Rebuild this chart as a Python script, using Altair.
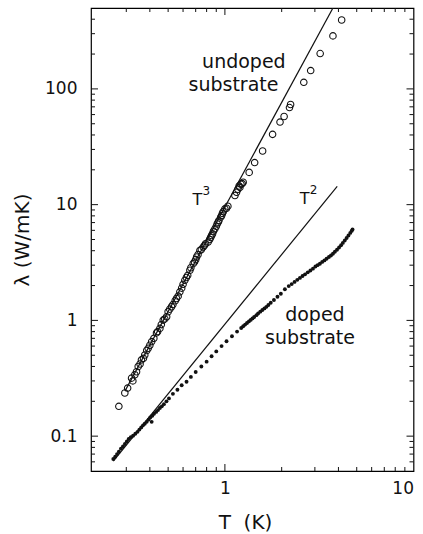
import altair as alt
import pandas as pd

# ---------------- data ----------------
undoped_T = [4.16, 3.74, 3.20, 2.85, 2.62, 2.23, 2.20, 2.06, 1.96, 1.79, 1.585, 1.438, 1.345,
             1.25, 1.235, 1.216, 1.201, 1.19, 1.172, 1.153, 1.13,
             1.037, 1.02, 1.0, 0.98, 0.97, 0.961, 0.95, 0.93, 0.921, 0.91, 0.90, 0.885, 0.87,
             0.86, 0.85, 0.84, 0.83, 0.815, 0.79, 0.78, 0.767, 0.75, 0.737, 0.72, 0.708, 0.70,
             0.69, 0.679, 0.66, 0.652, 0.635, 0.625, 0.613, 0.60, 0.59, 0.577, 0.565, 0.554,
             0.545, 0.53, 0.521, 0.51, 0.50, 0.491, 0.48, 0.471, 0.46, 0.452, 0.44, 0.434,
             0.42, 0.409, 0.40, 0.392, 0.385, 0.376, 0.37, 0.361, 0.355, 0.347, 0.34, 0.333,
             0.32, 0.325, 0.305, 0.2947, 0.274]
undoped_k = [394, 287, 202, 144, 114, 73.3, 69, 57.8, 51.7, 40.5, 29.1, 23.1, 19.0,
             15.6, 15.2, 15.0, 14.1, 14.5, 13.6, 12.8, 12.0,
             9.7, 9.3, 9.19, 8.7, 8.4, 8.04, 7.8, 7.3, 7.06, 6.8, 6.5, 6.18, 5.9,
             5.6, 5.41, 5.2, 5.0, 4.75, 4.6, 4.45, 4.30, 4.1, 4.02, 3.7, 3.53, 3.35,
             3.2, 3.09, 2.85, 2.71, 2.45, 2.35, 2.22, 2.05, 1.9, 1.765, 1.62, 1.546,
             1.48, 1.37, 1.312, 1.25, 1.188, 1.076, 1.03, 1.006, 0.92, 0.853, 0.80, 0.78,
             0.70, 0.656, 0.61, 0.574, 0.55, 0.503, 0.47, 0.456, 0.42, 0.400, 0.36, 0.339,
             0.317, 0.30, 0.260, 0.236, 0.181]

doped_T = [0.256, 0.262, 0.268, 0.274, 0.281, 0.288, 0.295, 0.302, 0.309, 0.317, 0.326, 0.335,
           0.344, 0.352, 0.360, 0.368, 0.376, 0.385, 0.394, 0.409, 0.402, 0.412, 0.421, 0.432,
           0.442, 0.452, 0.463, 0.475, 0.490,
           0.505, 0.53, 0.56, 0.59, 0.626, 0.66, 0.70, 0.75, 0.80, 0.85, 0.90, 0.96, 1.02,
           1.09, 1.16, 1.22, 1.25, 1.28, 1.31, 1.34, 1.37, 1.40, 1.43, 1.47, 1.50, 1.54, 1.58,
           1.62, 1.66, 1.70, 1.75, 1.82, 1.90, 1.98, 2.08, 2.18, 2.26, 2.34, 2.42, 2.50, 2.58,
           2.66, 2.75, 2.84, 2.93, 3.02, 3.10, 3.19, 3.28, 3.37, 3.46, 3.56, 3.65, 3.74, 3.83,
           3.93, 4.03, 4.13, 4.22, 4.32, 4.42, 4.52, 4.62, 4.70, 4.75]
doped_k = [0.0635, 0.0665, 0.070, 0.0735, 0.078, 0.0815, 0.0855, 0.090, 0.0945, 0.098, 0.101,
           0.105, 0.109, 0.114, 0.119, 0.124, 0.128, 0.133, 0.139, 0.133, 0.145, 0.150, 0.156,
           0.162, 0.168, 0.175, 0.181, 0.189, 0.200,
           0.212, 0.232, 0.252, 0.275, 0.295, 0.325, 0.358, 0.40, 0.44, 0.49, 0.54, 0.60, 0.66,
           0.73, 0.80, 0.86, 0.89, 0.92, 0.95, 0.98, 1.01, 1.04, 1.07, 1.11, 1.15, 1.19, 1.23,
           1.27, 1.31, 1.36, 1.42, 1.50, 1.60, 1.70, 1.86, 1.98, 2.06, 2.15, 2.24, 2.33, 2.42,
           2.50, 2.60, 2.70, 2.80, 2.92, 3.00, 3.09, 3.20, 3.30, 3.41, 3.53, 3.64, 3.77, 3.92,
           4.08, 4.26, 4.46, 4.67, 4.90, 5.15, 5.42, 5.70, 5.93, 6.10]

# power-law guide lines (end points)
t3_T = [0.295, 3.74]
t3_k = [0.245, 500]
t2_T = [0.256, 3.94]
t2_k = [0.0608, 14.4]

# annotations
ann_text = ["undoped", "substrate", "doped", "substrate"]
ann_T = [1.261, 1.11, 3.0, 2.825]
ann_k = [170, 109, 1.11, 0.70]
pow_T = [0.715, 2.648]
pow_k = [11.0, 11.3]
pow_exp = ["3", "2"]

# ticks
x_major = [1]
x_minor = [0.3, 0.4, 0.5, 0.6, 0.7, 0.8, 0.9, 2, 3, 4, 5, 6, 7, 8, 9]
y_major = [0.1, 1, 10, 100]
y_minor = [0.06, 0.07, 0.08, 0.09, 0.2, 0.3, 0.4, 0.5, 0.6, 0.7, 0.8, 0.9,
           2, 3, 4, 5, 6, 7, 8, 9, 20, 30, 40, 50, 60, 70, 80, 90, 200, 300, 400]
x_labels = [1, 10]
y_labels = [0.1, 1, 10, 100]

# ---------------- chart ----------------
W, H = 322.5, 463
FONT = "DejaVu Sans"
INK = "#111111"

xs = alt.Scale(type="log", domain=[0.195, 10], nice=False)
ys = alt.Scale(type="log", domain=[0.05, 500], nice=False)

xaxis = alt.Axis(values=x_labels, format="~g", ticks=False, domain=False,
                 grid=False, labelFont=FONT, labelFontSize=17, labelColor=INK,
                 labelPadding=9, title="T\u00a0\u00a0(K)", titleFont=FONT,
                 titleFontSize=20, titleFontWeight="normal", titleColor=INK,
                 titleX=154, titleY=51, titleBaseline="middle")
yaxis = alt.Axis(values=y_labels, format="~g", ticks=False, domain=False,
                 grid=False, labelFont=FONT, labelFontSize=17, labelColor=INK,
                 labelPadding=14, title="\u03bb\u00a0(W/mK)", titleFont=FONT,
                 titleFontSize=20, titleFontWeight="normal", titleColor=INK,
                 titleX=-69, titleBaseline="middle")

X = alt.X("T:Q", scale=xs, axis=xaxis)
Y = alt.Y("k:Q", scale=ys, axis=yaxis)

undoped = pd.DataFrame({"T": undoped_T, "k": undoped_k})
doped = pd.DataFrame({"T": doped_T, "k": doped_k})

pts_undoped = alt.Chart(undoped).mark_point(shape="circle", filled=False, size=42,
                                            strokeWidth=1.1, color=INK, opacity=1).encode(x=X, y=Y)

pts_doped = alt.Chart(doped).mark_circle(size=15, color=INK, opacity=1).encode(x=X, y=Y)

line3 = alt.Chart(pd.DataFrame({"T": t3_T, "k": t3_k})).mark_line(
    color=INK, strokeWidth=1.2, clip=True).encode(x=X, y=Y)
line2 = alt.Chart(pd.DataFrame({"T": t2_T, "k": t2_k})).mark_line(
    color=INK, strokeWidth=1.2, clip=True).encode(x=X, y=Y)

ann = alt.Chart(pd.DataFrame({"T": ann_T, "k": ann_k, "t": ann_text})).mark_text(
    font=FONT, fontSize=19, color=INK, align="center", baseline="middle").encode(
    x=X, y=Y, text="t:N")

powdf = pd.DataFrame({"T": pow_T, "k": pow_k, "e": pow_exp, "b": ["T", "T"]})
pow_base = alt.Chart(powdf).mark_text(
    font=FONT, fontSize=16, color=INK, align="center", baseline="middle").encode(
    x=X, y=Y, text="b:N")
pow_sup = alt.Chart(powdf).mark_text(
    font=FONT, fontSize=12, color=INK, align="center", baseline="middle", dx=9, dy=-9).encode(
    x=X, y=Y, text="e:N")


def yticks(vals, length, right=False):
    d = pd.DataFrame({"k": vals})
    x0 = W if right else 0
    x1 = W - length if right else length
    return alt.Chart(d).mark_rule(color=INK, strokeWidth=1).encode(
        y=Y, x=alt.value(x0), x2=alt.value(x1))


def xticks(vals, length, top=False):
    d = pd.DataFrame({"T": vals})
    y0 = 0 if top else H
    y1 = length if top else H - length
    return alt.Chart(d).mark_rule(color=INK, strokeWidth=1).encode(
        x=X, y=alt.value(y0), y2=alt.value(y1))


ticks = [yticks(y_major, 7), yticks(y_minor, 4), yticks(y_major, 7, True), yticks(y_minor, 4, True),
         xticks(x_major, 7), xticks(x_minor, 4), xticks(x_major, 7, True), xticks(x_minor, 4, True)]

chart = alt.layer(pts_undoped, pts_doped, line3, line2, ann, pow_base, pow_sup, *ticks).properties(
    width=W, height=H,
    autosize=alt.AutoSizeParams(type="none"),
    padding={"left": 91, "top": 8, "right": 9.5, "bottom": 63},
    background="white",
).configure_view(stroke="black", strokeWidth=1.2)

chart.save("out.html", embed_options={"renderer": "svg", "actions": False})
